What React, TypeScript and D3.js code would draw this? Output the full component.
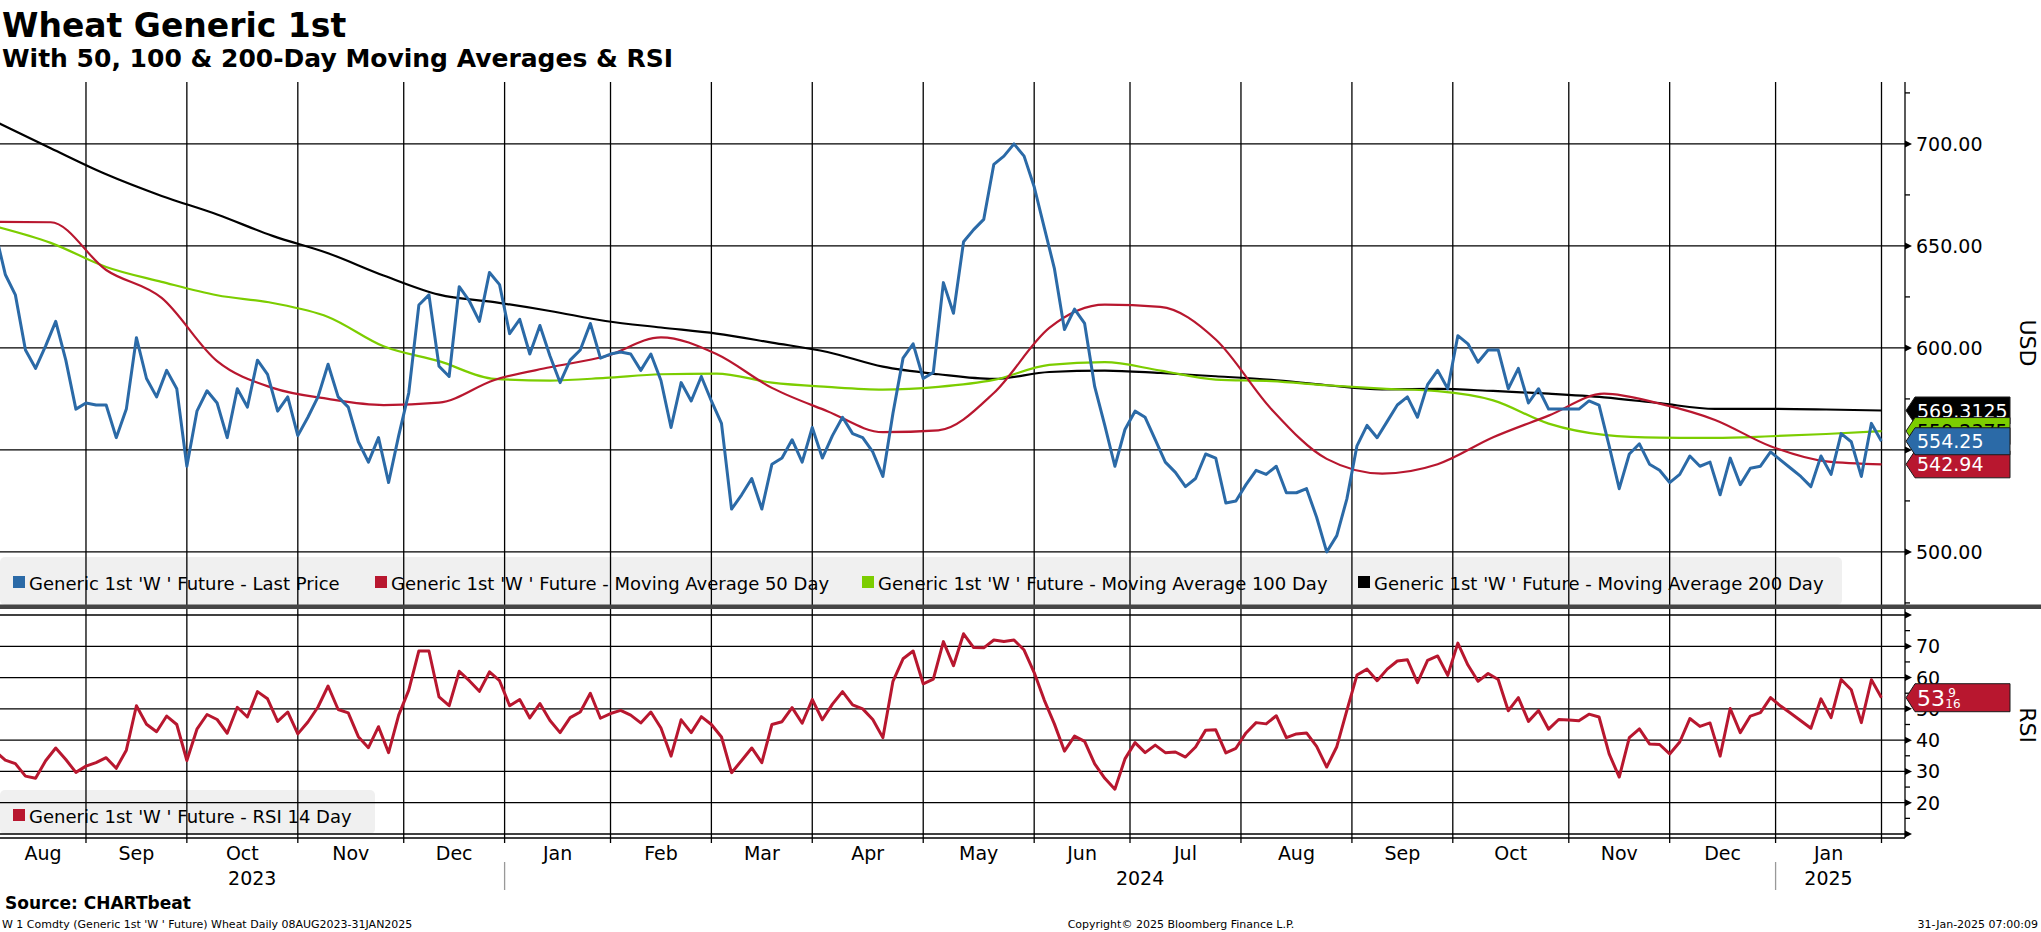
import React, { useEffect, useRef } from "react";
import * as d3 from "d3";

const WIDTH = 2041;
const HEIGHT = 932;

// exchange closures in the window (Jan 9 / Jan 20 2025 are kept in this series)
const HOLIDAYS = [
  "2023-09-04", "2023-11-23", "2023-12-25", "2024-01-01", "2024-01-15",
  "2024-02-19", "2024-03-29", "2024-05-27", "2024-06-19", "2024-07-04",
  "2024-09-02", "2024-11-28", "2024-12-25", "2025-01-01",
];

// last price, every 2nd trading day, 08-Aug-2023 .. 31-Jan-2025
const PRICE = [
  657, 636, 626, 599, 590, 601, 613, 594, 570, 573,
  572, 572, 556, 570, 605, 585, 576, 589, 580, 542,
  569, 579, 573, 556, 580, 571, 594, 587, 569, 576,
  557, 566, 576, 592, 576, 571, 554, 544, 556, 534,
  557, 578, 621, 626, 591, 586, 630, 623, 613, 637,
  631, 607, 614, 597, 611, 596, 583, 594, 599, 612,
  595, 597, 598, 597, 589, 597, 584, 561, 583, 574,
  586, 574, 563, 521, 528, 536, 521, 543, 546, 555,
  544, 561, 546, 557, 566, 558, 556, 549, 537, 568,
  595, 602, 585, 588, 632, 617, 652, 658, 663, 690,
  694, 700, 694, 679, 659, 639, 609, 619, 612, 581,
  562, 542, 560, 569, 566, 555, 544, 539, 532, 536,
  548, 546, 524, 525, 533, 540, 538, 542, 529, 529,
  531, 517, 500, 508, 526, 552, 562, 556, 564, 572,
  576, 566, 582, 589, 580, 606, 602, 593, 599, 599,
  580, 590, 573, 580, 570, 570, 570, 570, 574, 572,
  552, 531, 548, 553, 543, 540, 534, 538, 547, 542,
  544, 528, 546, 533, 541, 542, 549, 545, 541, 537,
  532, 547, 538, 558, 554, 537, 563, 554.25,
];

// RSI 14 day, same dates as PRICE
const RSI14 = [
  36.5, 33.6, 32.5, 28.5, 27.8, 33.4, 37.5, 33.8, 29.7, 31.7,
  32.8, 34.4, 31, 36.8, 51, 45.1, 42.7, 47.7, 45, 33.5,
  43.5, 48.2, 46.6, 42.2, 50.5, 47.4, 55.5, 53.2, 46, 49,
  42, 45.8, 50.6, 57.3, 49.8, 48.7, 41.1, 37.6, 44.3, 36,
  48, 56, 68.5, 68.5, 53.8, 51, 62, 59, 55.6, 61.8,
  59, 51, 53, 47.1, 51.7, 46.3, 42.4, 47.2, 49, 55,
  47, 48.5, 49.5, 48, 45.5, 49, 43.9, 34.9, 46.5, 42.4,
  47.5, 45, 41, 29.6, 33.5, 37.5, 32.8, 45, 45.9, 50.4,
  45.4, 53, 46.5, 51.5, 55.5, 51.3, 50, 46.6, 40.8, 58.8,
  66, 68.5, 58, 59.5, 71.5, 63.8, 74, 69.6, 69.5, 72,
  71.5, 72, 68.8, 61.6, 52.8, 45.2, 36.5, 41.3, 39.6, 32.4,
  27.8, 24.3, 34, 39.2, 36, 38.4, 36, 36.2, 34.6, 37.8,
  43.2, 43.3, 35.9, 37.4, 42.3, 45.6, 45.2, 47.8, 40.8, 42,
  42.3, 38, 31.4, 37.9, 49.5, 60.8, 62.7, 59, 62.7, 65.3,
  65.7, 58.4, 65.5, 66.9, 60.7, 71, 64, 58.8, 61.3, 59.4,
  49.4, 53.6, 46, 49.5, 43.5, 46.6, 46.4, 46.2, 48.3, 47.4,
  35.6, 28.2, 40.8, 43.6, 38.8, 38.6, 35.6, 39.4, 46.9, 44.4,
  45.5, 34.9, 50.1, 42.4, 47.7, 48.8, 53.6, 50.9, 48.6, 46.2,
  43.8, 53.2, 47.2, 59.4, 56.1, 45.6, 59.3, 53.5625,
];

// moving averages, every 11th trading day
const MA50 = [
  661.8, 661.6, 638.2, 624.5, 593.5, 580.4, 575, 572, 573.2, 584.3,
  590.5, 595.9, 605.2, 597, 580.4, 569, 558.7, 559.6, 577.9, 609.8,
  621.2, 620.1, 604.1, 570.1, 545.6, 538.4, 543, 556.2, 566.8, 577.6,
  572.7, 564.7, 551.8, 544.4, 542.94,
];
const MA100 = [
  659.6, 651.5, 639.7, 632.4, 625.8, 622, 615.2, 600.8, 593.5, 584.8,
  584, 585.3, 587.1, 587.4, 583, 580.9, 579.6, 580.9, 584.3, 591.7,
  593, 588.9, 584.5, 583.7, 581.7, 580, 578.8, 574.3, 562.9, 557.4,
  556, 555.9, 556.7, 557.8, 559.2375,
];
const MA200 = [
  711, 697.9, 685.1, 674.5, 665.4, 654.9, 646.4, 635.5, 626.1, 622.4,
  618.1, 613.2, 610, 607, 602.6, 598, 590.8, 587.1, 584.8, 588.2,
  588.9, 587.7, 586.1, 584.3, 581.7, 579.7, 579.9, 578.9, 577.6, 575.8,
  572.9, 570.1, 570.1, 569.8, 569.3125,
];

const PRICE_TICKS = [500, 550, 600, 650, 700];
const PRICE_MINOR = [475, 525, 575, 625, 675, 725];
const RSI_TICKS = [10, 20, 30, 40, 50, 60, 70, 80];
const RSI_LABELED = [20, 30, 40, 50, 60, 70];
const RSI_MINOR = [15, 25, 35, 45, 55, 65, 75];

const SERIES_NAMES = [
  "Generic 1st 'W ' Future - Last Price",
  "Generic 1st 'W ' Future - Moving Average 50 Day",
  "Generic 1st 'W ' Future - Moving Average 100 Day",
  "Generic 1st 'W ' Future - Moving Average 200 Day",
];
const RSI_NAME = "Generic 1st 'W ' Future - RSI 14 Day";

const BLUE = "#2b6aa7";
const RED = "#b8172f";
const GREEN = "#7ccd00";
const BLACK = "#000000";

const App: React.FC = () => {
  const ref = useRef<SVGSVGElement>(null);

  useEffect(() => {
    if (!ref.current) return;
    const svg = d3.select(ref.current);
    svg.selectAll("*").remove();
    svg.attr("font-family", "'DejaVu Sans', sans-serif");

    const fmtDay = d3.timeFormat("%Y-%m-%d");
    const closed = new Set(HOLIDAYS);
    const days = d3
      .timeDay.range(new Date(2023, 7, 8), new Date(2025, 1, 1))
      .filter((d) => d.getDay() !== 0 && d.getDay() !== 6 && !closed.has(fmtDay(d)));
    const last = days.length - 1;

    const axisX = 1905;
    const x = d3.scaleLinear().domain([0, last]).range([-4.8, 1881.5]);
    const yP = d3.scaleLinear().domain([473, 730]).range([607, 82.7]);
    const yR = d3.scaleLinear().domain([10, 80]).range([834, 615]);

    const monthStarts = days
      .map((_, i) => i)
      .filter((i) => i > 0 && days[i].getMonth() !== days[i - 1].getMonth());
    const yearStarts = monthStarts.filter((i) => days[i].getMonth() === 0);

    const defs = svg.append("defs");
    defs
      .append("clipPath")
      .attr("id", "clipP")
      .append("rect")
      .attr("x", 0)
      .attr("y", 82)
      .attr("width", x(last) + 1)
      .attr("height", 522);
    defs
      .append("clipPath")
      .attr("id", "clipR")
      .append("rect")
      .attr("x", 0)
      .attr("y", 609)
      .attr("width", x(last) + 1)
      .attr("height", 229);

    // legend backgrounds
    svg.append("rect").attr("x", 0).attr("y", 557).attr("width", 1842).attr("height", 48).attr("rx", 5).attr("fill", "#f0f0f0");
    svg.append("rect").attr("x", 0).attr("y", 790).attr("width", 375).attr("height", 44).attr("rx", 5).attr("fill", "#f0f0f0");

    // grid
    const grid = svg.append("g").attr("stroke", "#000").attr("stroke-width", 1.3);
    PRICE_TICKS.forEach((v) =>
      grid.append("line").attr("x1", 0).attr("x2", axisX).attr("y1", yP(v)).attr("y2", yP(v))
    );
    RSI_TICKS.forEach((v) =>
      grid.append("line").attr("x1", 0).attr("x2", axisX).attr("y1", yR(v)).attr("y2", yR(v))
    );
    grid.append("line").attr("x1", 0).attr("x2", axisX).attr("y1", 838).attr("y2", 838);
    [...monthStarts, last].forEach((i) =>
      grid.append("line").attr("x1", x(i)).attr("x2", x(i)).attr("y1", 82).attr("y2", 843)
    );
    grid.append("line").attr("x1", axisX).attr("x2", axisX).attr("y1", 82).attr("y2", 838);

    // legends
    const legendX = [13, 375, 862, 1358];
    const legendColors = [BLUE, RED, GREEN, BLACK];
    SERIES_NAMES.forEach((name, i) => {
      svg.append("rect").attr("x", legendX[i]).attr("y", 576).attr("width", 12).attr("height", 12).attr("fill", legendColors[i]);
      svg.append("text").attr("x", legendX[i] + 16).attr("y", 590).attr("font-size", 18).text(name);
    });
    svg.append("rect").attr("x", 13).attr("y", 809).attr("width", 12).attr("height", 12).attr("fill", RED);
    svg.append("text").attr("x", 29).attr("y", 823).attr("font-size", 18).text(RSI_NAME);

    // series
    const dailyLine = (y: d3.ScaleLinear<number, number>) =>
      d3.line<number>().x((_, i) => x(i * 2)).y((d) => y(d));
    const maLine = d3
      .line<number>()
      .x((_, i) => x(i * 11))
      .y((d) => yP(d))
      .curve(d3.curveMonotoneX);

    const plot = svg.append("g").attr("clip-path", "url(#clipP)").attr("fill", "none").attr("stroke-linejoin", "round");
    plot.append("path").attr("d", maLine(MA200)).attr("stroke", BLACK).attr("stroke-width", 2.2);
    plot.append("path").attr("d", maLine(MA100)).attr("stroke", GREEN).attr("stroke-width", 2.2);
    plot.append("path").attr("d", maLine(MA50)).attr("stroke", RED).attr("stroke-width", 2.2);
    plot.append("path").attr("d", dailyLine(yP)(PRICE)).attr("stroke", BLUE).attr("stroke-width", 3);

    svg
      .append("g")
      .attr("clip-path", "url(#clipR)")
      .append("path")
      .attr("d", dailyLine(yR)(RSI14))
      .attr("fill", "none")
      .attr("stroke", RED)
      .attr("stroke-width", 3)
      .attr("stroke-linejoin", "round");

    // panel separator
    svg.append("rect").attr("x", 0).attr("y", 604.5).attr("width", WIDTH).attr("height", 4.5).attr("fill", "#454545");

    // right axis ticks + labels
    const arrow = (y: number) =>
      svg.append("path").attr("d", `M${axisX},${y - 3.5}L${axisX + 7},${y}L${axisX},${y + 3.5}Z`).attr("fill", "#000");
    const minor = (y: number) =>
      svg.append("line").attr("x1", axisX).attr("x2", axisX + 5).attr("y1", y).attr("y2", y).attr("stroke", "#000").attr("stroke-width", 1.3);

    PRICE_TICKS.forEach((v) => {
      arrow(yP(v));
      svg.append("text").attr("x", 1916).attr("y", yP(v) + 7).attr("font-size", 19).text(d3.format(".2f")(v));
    });
    PRICE_MINOR.forEach((v) => minor(yP(v)));
    RSI_TICKS.forEach((v) => arrow(yR(v)));
    RSI_MINOR.forEach((v) => minor(yR(v)));
    RSI_LABELED.forEach((v) =>
      svg.append("text").attr("x", 1916).attr("y", yR(v) + 7).attr("font-size", 19).text(v)
    );

    // last value tags
    const tag = (yc: number, h: number, fill: string, color: string) => {
      const top = yc - h / 2;
      const bot = yc + h / 2;
      svg
        .append("path")
        .attr("d", `M${axisX + 1},${yc}L${axisX + 10},${top}L2010,${top}L2010,${bot}L${axisX + 10},${bot}Z`)
        .attr("fill", fill)
        .attr("stroke", "#1a1a1a")
        .attr("stroke-width", 1);
      return svg.append("text").attr("x", axisX + 12).attr("y", yc + 7).attr("font-size", 19).attr("fill", color);
    };
    const lastMA200 = MA200[MA200.length - 1];
    const lastMA100 = MA100[MA100.length - 1];
    const lastMA50 = MA50[MA50.length - 1];
    const lastPrice = PRICE[PRICE.length - 1];
    tag(yP(lastMA200), 27, BLACK, "#fff").text(String(lastMA200));
    tag(yP(lastMA100), 27, GREEN, "#000").text(String(lastMA100));
    tag(yP(lastMA50), 27, RED, "#fff").text(String(lastMA50));
    tag(yP(lastPrice), 27, BLUE, "#fff").text(String(lastPrice));

    const lastRsi = RSI14[RSI14.length - 1];
    const whole = Math.floor(lastRsi);
    const num = Math.round((lastRsi - whole) * 16);
    const yRsi = yR(lastRsi);
    tag(yRsi, 28, RED, "#fff").attr("font-size", 22).attr("y", yRsi + 8).text(String(whole));
    svg.append("text").attr("x", 1952).attr("y", yRsi - 1).attr("font-size", 12).attr("fill", "#fff").attr("text-anchor", "middle").text(num);
    svg.append("text").attr("x", 1953).attr("y", yRsi + 10).attr("font-size", 12).attr("fill", "#fff").attr("text-anchor", "middle").text(16);

    // axis titles
    svg.append("text").attr("transform", "translate(2020,343) rotate(90)").attr("text-anchor", "middle").attr("font-size", 22).text("USD");
    svg.append("text").attr("transform", "translate(2020,725) rotate(90)").attr("text-anchor", "middle").attr("font-size", 22).text("RSI");

    // time axis labels
    const monthBounds = [0, ...monthStarts, last];
    const fmtMonth = d3.timeFormat("%b");
    monthBounds.slice(0, -1).forEach((b, s) => {
      const cx = (Math.max(0, x(b)) + x(monthBounds[s + 1])) / 2;
      svg.append("text").attr("x", cx).attr("y", 860).attr("text-anchor", "middle").attr("font-size", 19).text(fmtMonth(days[b]));
    });
    const yearBounds = [0, ...yearStarts, last];
    const fmtYear = d3.timeFormat("%Y");
    yearBounds.slice(0, -1).forEach((b, s) => {
      const cx = (Math.max(0, x(b)) + x(yearBounds[s + 1])) / 2;
      svg.append("text").attr("x", cx).attr("y", 885).attr("text-anchor", "middle").attr("font-size", 19).text(fmtYear(days[b]));
    });
    yearStarts.forEach((i) =>
      svg.append("line").attr("x1", x(i)).attr("x2", x(i)).attr("y1", 862).attr("y2", 890).attr("stroke", "#999").attr("stroke-width", 1.3)
    );

    // titles
    svg.append("text").attr("x", 2).attr("y", 37).attr("font-size", 33).attr("font-weight", "bold").text("Wheat Generic 1st");
    svg.append("text").attr("x", 2).attr("y", 67).attr("font-size", 25).attr("font-weight", "bold").text("With 50, 100 & 200-Day Moving Averages & RSI");

    // footer
    svg.append("text").attr("x", 5).attr("y", 909).attr("font-size", 17).attr("font-weight", "bold").text("Source: CHARTbeat");
    svg.append("text").attr("x", 2).attr("y", 928).attr("font-size", 11).text("W 1 Comdty (Generic 1st 'W ' Future) Wheat  Daily 08AUG2023-31JAN2025");
    svg.append("text").attr("x", 1181).attr("y", 928).attr("font-size", 11).attr("text-anchor", "middle").text("Copyright\u00a9 2025 Bloomberg Finance L.P.");
    svg.append("text").attr("x", 2038).attr("y", 928).attr("font-size", 11).attr("text-anchor", "end").text("31-Jan-2025 07:00:09");
  }, []);

  return (
    <svg
      ref={ref}
      width={WIDTH}
      height={HEIGHT}
      style={{ position: "absolute", left: 0, top: 0, background: "#fff" }}
    />
  );
};

export default App;
